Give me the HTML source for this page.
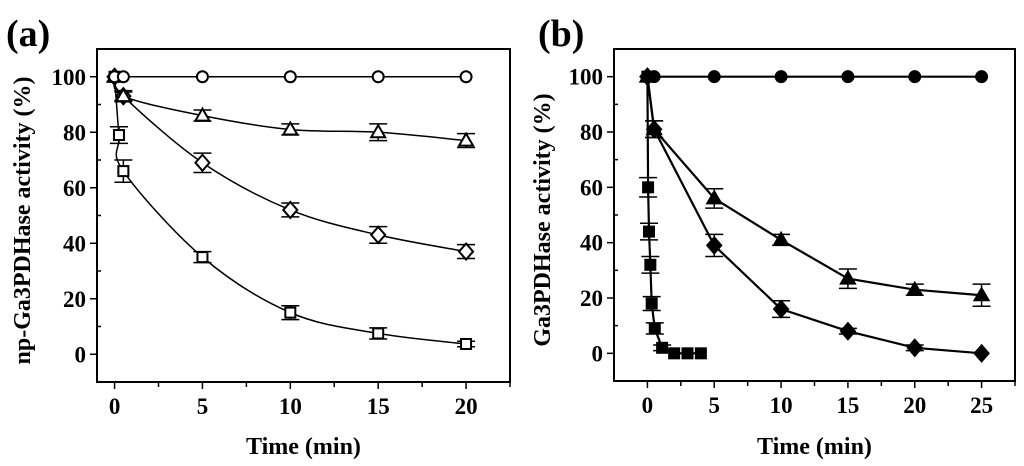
<!DOCTYPE html>
<html><head><meta charset="utf-8"><style>
html,body{margin:0;padding:0;background:#fff}
svg{display:block}
text{font-family:"Liberation Serif",serif;font-weight:bold;fill:#000}
</style></head><body>
<svg id="fig" width="1024" height="466" viewBox="0 0 1024 466" xmlns="http://www.w3.org/2000/svg"></svg>
<script>
// Panel (a) data
const aCircleX=[0,0.5,5,10,15,20];
const aCircleY=[100,100,100,100,100,100];
const aTriX=[0,0.5,5,10,15,20];
const aTriY=[100,93,86,81,80,77];
const aTriE=[0,2,2,2,3,2.5];
const aDiaX=[0,0.5,5,10,15,20];
const aDiaY=[100,93,69,52,43,37];
const aDiaE=[0,1.5,3.5,2.5,3,2.5];
const aSqX=[0,0.25,0.5,5,10,15,20];
const aSqY=[100,79,66,35,15,7.5,3.7];
const aSqE=[0,3,4,2,2.5,2,1];
const aXTicks=[0,5,10,15,20];
const aYTicks=[0,20,40,60,80,100];
// Panel (b) data
const bCircleX=[0,0.5,5,10,15,20,25];
const bCircleY=[100,100,100,100,100,100,100];
const bTriX=[0,0.5,5,10,15,20,25];
const bTriY=[100,81,56,41,27,23,21];
const bTriE=[0,3,3.5,2,3.5,2,4];
const bDiaX=[0,0.5,5,10,15,20,25];
const bDiaY=[100,81,39,16,8,2,0];
const bDiaE=[0,3,4,3,1,1,0];
const bSqX=[0,0.05,0.12,0.22,0.32,0.55,1.1,2,3,4];
const bSqY=[100,60,44,32,18,9,2,0,0,0];
const bSqE=[0,3.5,3,3,2.5,2,1,0,0,0];
const bXTicks=[0,5,10,15,20,25];
const bYTicks=[0,20,40,60,80,100];

const NS="http://www.w3.org/2000/svg";
const svg=document.getElementById('fig');
function mk(tag,attrs,parent){const e=document.createElementNS(NS,tag);for(const k in attrs)e.setAttribute(k,attrs[k]);(parent||svg).appendChild(e);return e;}

function panel(cfg){
  const g=mk('g',{});
  
  
  const {L,R,T,B,xmin,xmax,ymin,ymax}=cfg;
  const sx=v=>L+(v-xmin)/(xmax-xmin)*(R-L);
  const sy=v=>B-(v-ymin)/(ymax-ymin)*(B-T);
  const fr=mk('rect',{x:L,y:T,width:R-L,height:B-T,fill:'none',stroke:'#000','stroke-width':2},g);
  
  
  for(let v=cfg.xTicks[0];v<=cfg.xTicks[cfg.xTicks.length-1]+2.5;v+=2.5){
    const major=cfg.xTicks.includes(v);
    if(sx(v)>R)break;
    mk('line',{x1:sx(v),x2:sx(v),y1:B,y2:B+(major?7:5),stroke:'#000','stroke-width':1.5},g);
  }
  cfg.xTicks.forEach(v=>{const t=mk('text',{x:sx(v),y:B+32,'text-anchor':'middle','font-size':23},g);t.textContent=v;
    });
  for(let v=-10;v<=110;v+=10){
    const major=cfg.yTicks.includes(v);
    mk('line',{x1:L,x2:major?L-7:L+4,y1:sy(v),y2:sy(v),stroke:'#000','stroke-width':1.5},g);
  }
  cfg.yTicks.forEach(v=>{const t=mk('text',{x:L-11,y:sy(v)+8,'text-anchor':'end','font-size':23},g);t.textContent=v;
    });
  const xt=mk('text',{x:(L+R)/2,y:454,'text-anchor':'middle','font-size':24},g);xt.textContent='Time (min)';
  
  const yt=mk('text',{x:0,y:0,'text-anchor':'middle','font-size':24,transform:`translate(${cfg.ytx},${(sy(100)+sy(0))/2+5}) rotate(-90)`},g);yt.textContent=cfg.ytitle;
  
  const pl=mk('text',{x:cfg.lx,y:46,'font-size':38},g);pl.textContent=cfg.label;
  

  cfg.series.forEach(s=>{
    const sg=mk('g',{},g);
    
    
    const pts=s.x.map((x,i)=>[sx(x),sy(s.y[i])]);
    let d='M'+pts[0][0]+','+pts[0][1];
    if(cfg.smooth){
      for(let i=0;i<pts.length-1;i++){
        const p0=pts[Math.max(0,i-1)],p1=pts[i],p2=pts[i+1],p3=pts[Math.min(pts.length-1,i+2)];
        const c1=[p1[0]+(p2[0]-p0[0])/6,p1[1]+(p2[1]-p0[1])/6];
        const c2=[p2[0]-(p3[0]-p1[0])/6,p2[1]-(p3[1]-p1[1])/6];
        d+=` C${c1[0]},${c1[1]} ${c2[0]},${c2[1]} ${p2[0]},${p2[1]}`;
      }
    } else pts.slice(1).forEach(p=>d+=` L${p[0]},${p[1]}`);
    mk('path',{d,fill:'none',stroke:'#000','stroke-width':cfg.lw},sg);
    s.x.forEach((x,i)=>{
      const cx=sx(x),cy=sy(s.y[i]);
      if(s.e&&s.e[i]>0){
        const e=s.e[i];
        mk('line',{x1:cx,x2:cx,y1:sy(s.y[i]+e),y2:sy(s.y[i]-e),stroke:'#000','stroke-width':1.5},sg);
        mk('line',{x1:cx-9,x2:cx+9,y1:sy(s.y[i]+e),y2:sy(s.y[i]+e),stroke:'#000','stroke-width':1.5},sg);
        mk('line',{x1:cx-9,x2:cx+9,y1:sy(s.y[i]-e),y2:sy(s.y[i]-e),stroke:'#000','stroke-width':1.5},sg);
      }
      const fill=cfg.filled?'#000':'#fff';
      const st={stroke:'#000','stroke-width':2,fill};
      let m;
      if(s.m==='c')m=mk('circle',Object.assign({cx,cy,r:5.5},st),sg);
      else if(s.m==='s')m=mk('rect',Object.assign({x:cx-5,y:cy-5,width:10,height:10},st),sg);
      else if(s.m==='t')m=mk('path',Object.assign({d:`M${cx},${cy-7} L${cx+7},${cy+5} L${cx-7},${cy+5}Z`},st),sg);
      else m=mk('path',Object.assign({d:`M${cx},${cy-8} L${cx+7},${cy} L${cx},${cy+8} L${cx-7},${cy}Z`},st),sg);
      
      
    });
  });
}

panel({name:'panel-a',L:97,R:510,T:49,B:382,xmin:-1,xmax:22.5,ymin:-10,ymax:110,
  xTicks:aXTicks,yTicks:aYTicks,ytx:30,ytitle:'np-Ga3PDHase activity (%)',label:'(a)',lx:6,
  smooth:true,filled:false,lw:1.5,
  series:[
    {name:'series-square',m:'s',x:aSqX,y:aSqY,e:aSqE},
    {name:'series-diamond',m:'d',x:aDiaX,y:aDiaY,e:aDiaE},
    {name:'series-triangle',m:'t',x:aTriX,y:aTriY,e:aTriE},
    {name:'series-circle',m:'c',x:aCircleX,y:aCircleY}
  ]});
panel({name:'panel-b',L:614,R:1015,T:49,B:381,xmin:-2.5,xmax:27.5,ymin:-10,ymax:110,
  xTicks:bXTicks,yTicks:bYTicks,ytx:550,ytitle:'Ga3PDHase activity (%)',label:'(b)',lx:538,
  smooth:false,filled:true,lw:2.2,
  series:[
    {name:'series-square',m:'s',x:bSqX,y:bSqY,e:bSqE},
    {name:'series-diamond',m:'d',x:bDiaX,y:bDiaY,e:bDiaE},
    {name:'series-triangle',m:'t',x:bTriX,y:bTriY,e:bTriE},
    {name:'series-circle',m:'c',x:bCircleX,y:bCircleY}
  ]});
</script>
</body></html>
